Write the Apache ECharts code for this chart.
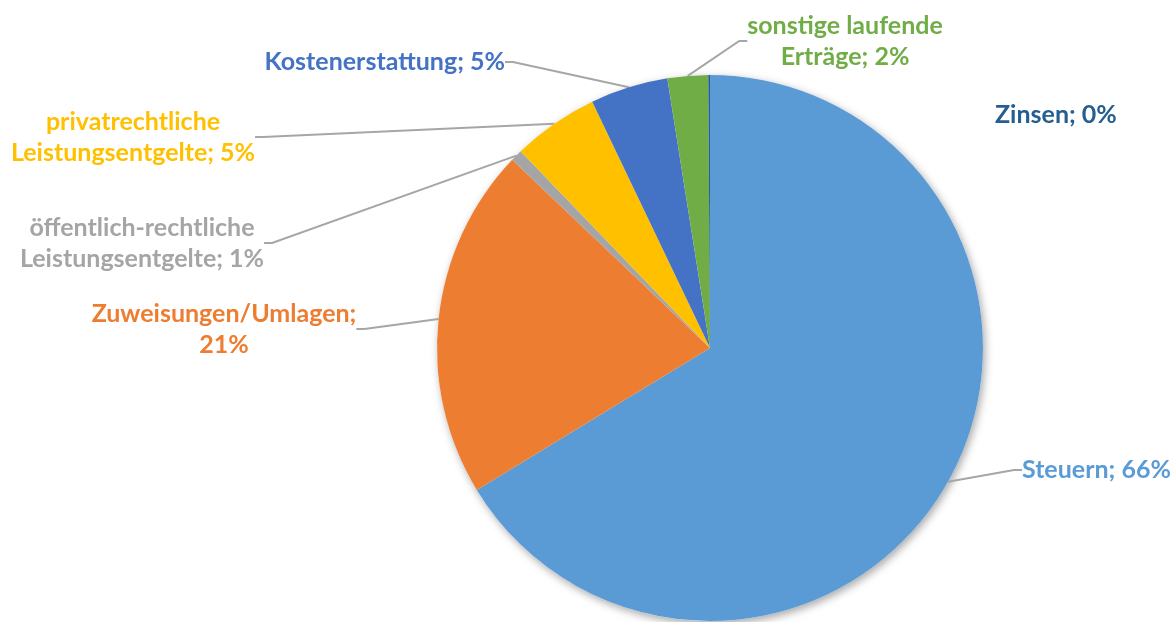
<!DOCTYPE html>
<html>
<head>
<meta charset="utf-8">
<script src="https://cdn.jsdelivr.net/npm/echarts@6/dist/echarts.min.js"></script>
<style>
  html, body { margin: 0; background: #fff; }
  #chart { width: 1175px; height: 622px; }
</style>
</head>
<body>
<div id="chart"></div>
<script>
// Laufende Erträge - Anteile in %
const categories = [
  'Steuern',
  'Zuweisungen/Umlagen',
  'öffentlich-rechtliche Leistungsentgelte',
  'privatrechtliche Leistungsentgelte',
  'Kostenerstattung',
  'sonstige laufende Erträge',
  'Zinsen'
]
const shares = [66.3, 20.8, 0.7, 5.1, 4.6, 2.4, 0.1]
const colors = ['#5B9BD5', '#ED7D31', '#A5A5A5', '#FFC000', '#4472C4', '#70AD47', '#255E91']

// wo die Beschriftungen stehen (wie im Excel-Original verschoben)
const labelPlace = {
  'Steuern': { x: 1022, y: 470, align: 'left' },
  'Zuweisungen/Umlagen': { x: 224, y: 329, align: 'center', br: 'pct' },
  'öffentlich-rechtliche Leistungsentgelte': { x: 142, y: 243, align: 'center', br: 'word' },
  'privatrechtliche Leistungsentgelte': { x: 133, y: 137, align: 'center', br: 'word' },
  'Kostenerstattung': { x: 505, y: 62, align: 'right' },
  'sonstige laufende Erträge': { x: 845, y: 41, align: 'center', br: 'word' },
  'Zinsen': { x: 995, y: 115, align: 'left', noLine: true }
}

const chart = echarts.init(document.getElementById('chart'))

const pieData = categories.map((name, i) => ({
  name: name,
  value: shares[i],
  itemStyle: { color: colors[i] },
  label: { color: colors[i] },
  labelLine: { show: !labelPlace[name].noLine }
}))

const option = {
  animation: false,
  series: [
    // nur für den Schatten hinter dem Kreis
    {
      type: 'pie',
      silent: true,
      center: [710, 348],
      radius: 273,
      z: 1,
      label: { show: false },
      labelLine: { show: false },
      itemStyle: {
        color: '#ffffff',
        shadowBlur: 9,
        shadowOffsetX: 2,
        shadowOffsetY: 3,
        shadowColor: 'rgba(0,0,0,0.35)'
      },
      data: [{ value: 1 }]
    },
    {
      type: 'pie',
      center: [710, 348],
      radius: 273,
      z: 2,
      startAngle: 90,
      clockwise: true,
      avoidLabelOverlap: false,
      percentPrecision: 0,
      itemStyle: { borderWidth: 0 },
      label: {
        show: true,
        position: 'outside',
        fontFamily: 'Lato',
        fontWeight: 'bold',
        fontSize: 25,
        lineHeight: 31,
        formatter: function (p) {
          const place = labelPlace[p.name]
          let name = p.name
          if (place.br === 'word') {
            const k = name.lastIndexOf(' ')
            name = name.slice(0, k) + '\n' + name.slice(k + 1)
          }
          return name + ';' + (place.br === 'pct' ? '\n' : ' ') + p.percent + '%'
        }
      },
      labelLine: {
        show: true,
        length: 20,
        length2: 8,
        lineStyle: { color: '#A6A6A6', width: 2 }
      },
      labelLayout: function (params) {
        const place = labelPlace[categories[params.dataIndex]]
        return {
          x: place.x,
          y: place.y,
          align: place.align,
          verticalAlign: 'middle',
          hideOverlap: false
        }
      },
      data: pieData
    }
  ]
}

chart.setOption(option)
</script>
</body>
</html>
